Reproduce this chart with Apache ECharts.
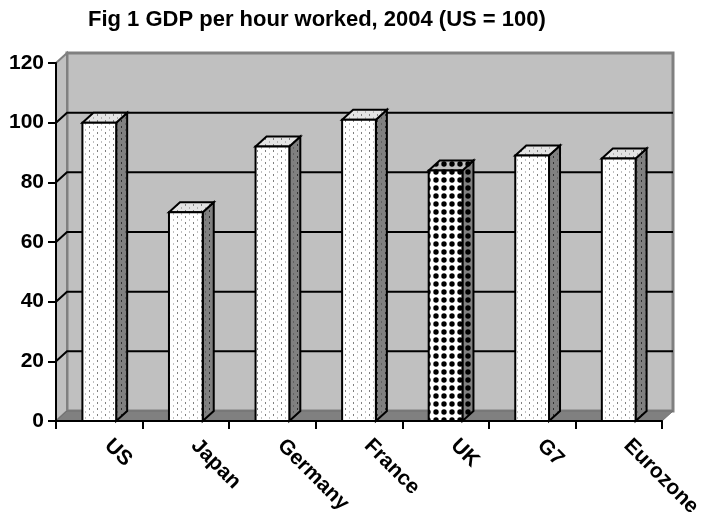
<!DOCTYPE html>
<html>
<head>
<meta charset="utf-8">
<script src="https://cdn.jsdelivr.net/npm/echarts@6/dist/echarts.min.js"></script>
<style>
  html, body { margin: 0; padding: 0; background: #ffffff; }
  #chart { width: 701px; height: 515px; }
</style>
</head>
<body>
<div id="chart"></div>
<script>
// GDP per hour worked, 2004, indexed to US = 100
const chartTitle = 'Fig 1 GDP per hour worked, 2004 (US = 100)';
const categories = ['US', 'Japan', 'Germany', 'France', 'UK', 'G7', 'Eurozone'];
const values = [100, 70, 92, 101, 84, 89, 88];
const highlighted = 'UK';
const yTicks = [0, 20, 40, 60, 80, 100, 120];

// oblique offset used for the depth of the 3-D frame and columns
const DX = 11, DY = -10;
const FONT = 'Liberation Sans, Arial, Helvetica, sans-serif';

// small repeating fills
function dotPattern(bg, dark, light) {
  const c = document.createElement('canvas');
  c.width = 8; c.height = 6;
  const g = c.getContext('2d');
  g.fillStyle = bg; g.fillRect(0, 0, 8, 6);
  g.fillStyle = dark; g.fillRect(1, 0, 1, 2);
  g.fillStyle = light; g.fillRect(5, 3, 1, 2);
  return { image: c, repeat: 'repeat' };
}
function blobPattern(bg, fg) {
  const c = document.createElement('canvas');
  c.width = 8; c.height = 8;
  const g = c.getContext('2d');
  g.fillStyle = bg; g.fillRect(0, 0, 8, 8);
  g.fillStyle = fg;
  g.beginPath(); g.arc(4, 4, 2.7, 0, Math.PI * 2); g.fill();
  return { image: c, repeat: 'repeat' };
}

const fills = {
  plain: {
    front: dotPattern('#ffffff', '#808080', '#c0c0c0'),
    top: dotPattern('#e4e4e4', '#808080', '#b0b0b0'),
    side: dotPattern('#808080', '#303030', '#606060')
  },
  marked: {
    front: blobPattern('#ffffff', '#000000'),
    top: blobPattern('#c0c0c0', '#000000'),
    side: blobPattern('#808080', '#000000')
  }
};

const chart = echarts.init(document.getElementById('chart'), null, { renderer: 'canvas' });

function renderFrame(params, api) {
  const cs = params.coordSys;
  const x0 = cs.x, x1 = cs.x + cs.width;
  const yb = api.coord([0, yTicks[0]])[1];
  const yt = api.coord([0, yTicks[yTicks.length - 1]])[1];
  const children = [];
  // back wall
  children.push({
    type: 'rect',
    shape: { x: x0 + DX, y: yt + DY, width: x1 - x0, height: yb - yt },
    style: { fill: '#c0c0c0', stroke: '#808080', lineWidth: 3 }
  });
  // left side wall
  children.push({
    type: 'polygon',
    shape: { points: [[x0, yb], [x0, yt], [x0 + DX, yt + DY], [x0 + DX, yb + DY]] },
    style: { fill: '#c0c0c0', stroke: '#808080', lineWidth: 2 }
  });
  // floor
  children.push({
    type: 'polygon',
    shape: { points: [[x0, yb], [x1, yb], [x1 + DX, yb + DY], [x0 + DX, yb + DY]] },
    style: { fill: '#808080', stroke: '#707070', lineWidth: 1 }
  });
  // gridlines across the side wall and back wall
  yTicks.slice(1, -1).forEach(function (v) {
    const y = api.coord([0, v])[1];
    children.push({
      type: 'polyline',
      shape: { points: [[x0, y], [x0 + DX, y + DY], [x1 + DX, y + DY]] },
      style: { stroke: '#000000', lineWidth: 2, fill: null }
    });
  });
  return { type: 'group', children: children };
}

function renderColumn(params, api) {
  const idx = api.value(0);
  const v = api.value(1);
  const top = api.coord([idx, v]);
  const base = api.coord([idx, 0]);
  const bw = api.size([1, 0])[0] * 0.39;
  const x0 = top[0] - bw / 2, x1 = top[0] + bw / 2;
  const yt = top[1], yb = base[1];
  const f = categories[idx] === highlighted ? fills.marked : fills.plain;
  const edge = { stroke: '#000000', lineWidth: 2, lineJoin: 'miter' };
  return {
    type: 'group',
    children: [
      {
        type: 'polygon',
        shape: { points: [[x1, yt], [x1 + DX, yt + DY], [x1 + DX, yb + DY], [x1, yb]] },
        style: Object.assign({ fill: f.side }, edge)
      },
      {
        type: 'polygon',
        shape: { points: [[x0, yt], [x1, yt], [x1 + DX, yt + DY], [x0 + DX, yt + DY]] },
        style: Object.assign({ fill: f.top }, edge)
      },
      {
        type: 'rect',
        shape: { x: x0, y: yt, width: x1 - x0, height: yb - yt },
        style: Object.assign({ fill: f.front }, edge)
      }
    ]
  };
}

chart.setOption({
  backgroundColor: '#ffffff',
  animation: false,
  title: {
    text: chartTitle,
    left: 88,
    top: 9,
    padding: 0,
    textStyle: { fontFamily: FONT, fontWeight: 'bold', fontSize: 22, color: '#000000' }
  },
  grid: {
    left: 56, right: 39, top: 63, bottom: 94,
    containLabel: false,
    outerBoundsMode: 'none'
  },
  xAxis: {
    type: 'category',
    data: categories,
    z: 5,
    axisLine: { lineStyle: { color: '#000000', width: 2 } },
    axisTick: { show: true, length: 8, lineStyle: { color: '#000000', width: 2 } },
    axisLabel: {
      rotate: -45,
      margin: 13,
      padding: [0, 0, 0, 12],
      hideOverlap: false,
      fontFamily: FONT,
      fontWeight: 'bold',
      fontSize: 21,
      color: '#000000'
    },
    splitLine: { show: false }
  },
  yAxis: {
    type: 'value',
    min: yTicks[0],
    max: yTicks[yTicks.length - 1],
    interval: yTicks[1] - yTicks[0],
    z: 5,
    axisLine: { show: true, lineStyle: { color: '#000000', width: 2 } },
    axisTick: { show: true, length: 8, lineStyle: { color: '#000000', width: 2 } },
    axisLabel: {
      margin: 12,
      fontFamily: FONT,
      fontWeight: 'bold',
      fontSize: 21,
      color: '#000000'
    },
    splitLine: { show: false }
  },
  series: [
    {
      type: 'custom',
      z: 1,
      silent: true,
      renderItem: renderFrame,
      data: [[0, 0]]
    },
    {
      type: 'custom',
      z: 3,
      renderItem: renderColumn,
      data: values.map(function (v, i) { return [i, v]; })
    }
  ]
});
</script>
</body>
</html>
